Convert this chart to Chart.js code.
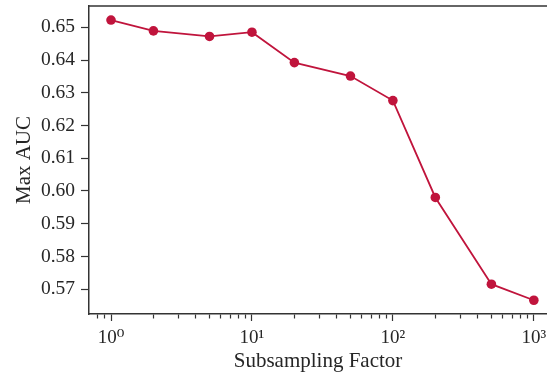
<!DOCTYPE html>
<html>
<head>
<meta charset="utf-8">
<script src="https://cdn.jsdelivr.net/npm/chart.js@4.4.1/dist/chart.umd.min.js"></script>
<style>
  html, body { margin: 0; padding: 0; background: #fff; }
  #wrap { width: 547px; height: 376px; }
</style>
</head>
<body>
<div id="wrap"><canvas id="aucChart"></canvas></div>
<script>
// subsampling factors and the max AUC
const factors = [1, 2, 5, 10, 20, 50, 100, 200, 500, 1000];
const maxAuc = [0.6522, 0.6489, 0.6472, 0.6485, 0.6392, 0.6351, 0.6276, 0.5980, 0.5715, 0.5666];

const yTicks = [0.57, 0.58, 0.59, 0.60, 0.61, 0.62, 0.63, 0.64, 0.65];
const xMajor = [1, 10, 100, 1000];
const supers = ['\u2070', '\u00b9', '\u00b2', '\u00b3'];

const lineColor = '#c0143c';
const axisColor = '#333333';
const serif = '"Liberation Serif", "DejaVu Serif", serif';

// minor ticks between the decades (2..9 x 10^k), like matplotlib's log axis
const xMinor = [0.8, 0.9];
xMajor.forEach(d => {
  for (let m = 2; m <= 9; m++) {
    if (d * m < 1200) xMinor.push(d * m);
  }
});

const topSpine = {
  id: 'topSpine',
  afterDraw(chart) {
    const { ctx, chartArea } = chart;
    ctx.save();
    ctx.strokeStyle = axisColor;
    ctx.lineWidth = 1.5;
    ctx.beginPath();
    ctx.moveTo(chartArea.left, chartArea.top);
    ctx.lineTo(chartArea.right, chartArea.top);
    ctx.stroke();
    ctx.restore();
  }
};

// no extra room for half labels, the plot box is fixed
const noPad = (scale) => {
  scale.paddingTop = 0;
  scale.paddingBottom = 0;
  scale.paddingLeft = 0;
  scale.paddingRight = 0;
};

const ctx = document.getElementById('aucChart').getContext('2d');
const aucChart = new Chart(ctx, {
  type: 'line',
  data: {
    datasets: [{
      data: factors.map((f, i) => ({ x: f, y: maxAuc[i] })),
      borderColor: lineColor,
      backgroundColor: lineColor,
      borderWidth: 1.8,
      pointRadius: 4.8,
      pointHoverRadius: 4.8,
      pointBorderWidth: 0,
      tension: 0,
      fill: false,
    }],
  },
  options: {
    responsive: true,
    maintainAspectRatio: false,
    animation: false,
    layout: { autoPadding: false, padding: { left: 0, right: 0, top: 6, bottom: 0 } },
    plugins: {
      legend: { display: false },
      tooltip: { enabled: false },
    },
    scales: {
      x: {
        type: 'logarithmic',
        min: 0.698,
        max: 1240,
        afterBuildTicks: (scale) => {
          const all = xMajor.concat(xMinor).sort((a, b) => a - b);
          scale.ticks = all.map(v => ({ value: v, major: xMajor.includes(v) }));
        },
        afterFit: (scale) => { scale.height = 62; noPad(scale); },
        border: { display: true, color: axisColor, width: 1.5 },
        grid: {
          drawOnChartArea: false,
          drawTicks: true,
          tickLength: 7,
          tickColor: axisColor,
          tickWidth: 1.2,
          tickBorderDash: (c) => (xMajor.includes(c.tick && c.tick.value) ? [] : [4, 30]),
        },
        ticks: {
          autoSkip: false,
          maxRotation: 0,
          padding: 6,
          color: '#262626',
          font: { family: serif, size: 19 },
          callback: (v) => {
            const k = xMajor.indexOf(v);
            return k >= 0 ? '10' + supers[k] : '';
          },
        },
        title: {
          display: true,
          text: 'Subsampling Factor',
          color: '#262626',
          font: { family: serif, size: 21 },
          padding: { top: 0, bottom: 2 },
        },
      },
      y: {
        min: 0.5624,
        max: 0.6565,
        afterBuildTicks: (scale) => {
          scale.ticks = yTicks.map(v => ({ value: v }));
        },
        afterFit: (scale) => { scale.width = 89; noPad(scale); },
        border: { display: true, color: axisColor, width: 1.5 },
        grid: {
          drawOnChartArea: false,
          tickLength: 8,
          tickColor: axisColor,
          tickWidth: 1.2,
        },
        ticks: {
          padding: 6,
          color: '#262626',
          font: { family: serif, size: 19.5 },
          callback: (v) => Number(v).toFixed(2),
        },
        title: {
          display: true,
          text: 'Max AUC',
          color: '#262626',
          font: { family: serif, size: 21 },
          padding: { top: 12, bottom: 0 },
        },
      },
    },
  },
  plugins: [topSpine],
});
</script>
</body>
</html>
